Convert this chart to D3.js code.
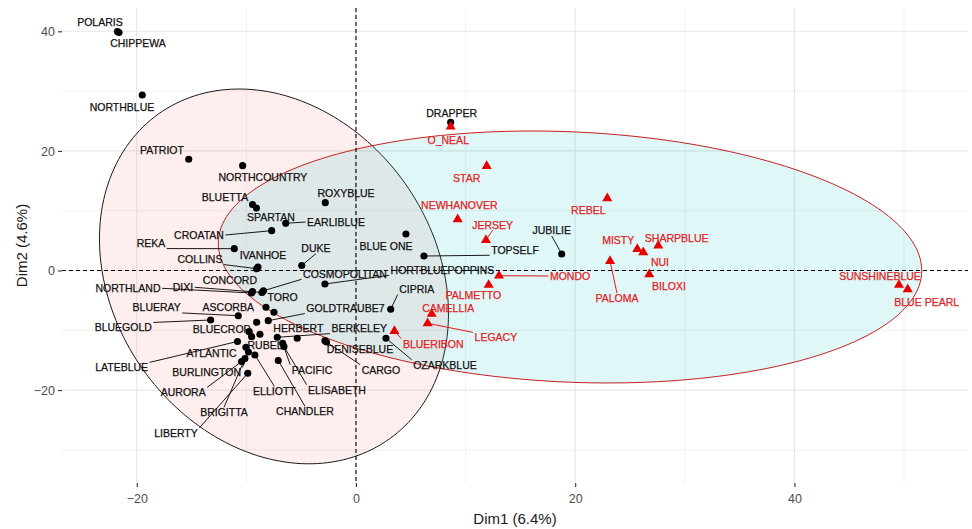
<!DOCTYPE html>
<html>
<head>
<meta charset="utf-8">
<script src="https://cdn.jsdelivr.net/npm/d3@7"></script>
<style>
  body { margin: 0; background: #fff; }
  text { font-family: "Liberation Sans", Arial, sans-serif; }
</style>
</head>
<body>
<svg id="chart" width="972" height="529"></svg>
<script>
// Cultivar coordinates on the first two dimensions
const cultivars = [
  "POLARIS","CHIPPEWA","NORTHBLUE","PATRIOT","NORTHCOUNTRY","BLUETTA","SPARTAN","ROXYBLUE",
  "EARLIBLUE","CROATAN","REKA","COLLINS","IVANHOE","DUKE","CONCORD","NORTHLAND","DIXI",
  "COSMOPOLITAN","HORTBLUEPOPPINS","BLUE ONE","TOPSELF","JUBILIE","DRAPPER","CIPRIA","TORO","",
  "BLUERAY","ASCORBA","GOLDTRAUBE7","BLUEGOLD","BLUECROP","RUBEL","","BERKELEY","HERBERT",
  "DENISEBLUE","CARGO","OZARKBLUE","LATEBLUE","ATLANTIC","BURLINGTON","ELLIOTT","PACIFIC",
  "ELISABETH","AURORA","BRIGITTA","LIBERTY","CHANDLER",
  "O_NEAL","STAR","NEWHANOVER","JERSEY","REBEL","MISTY","SHARPBLUE","NUI","BILOXI","PALOMA",
  "MONDO","PALMETTO","CAMELLIA","LEGACY","BLUERIBON","SUNSHINEBLUE","BLUE PEARL"
];
const dim1 = [
  -21.76,-21.62,-19.50,-15.26,-10.34,-9.44,-9.08,-2.80,
  -6.41,-7.69,-11.10,-9.06,-8.94,-4.95,-9.44,-9.53,-8.58,
  -8.44,-2.83,4.56,6.20,18.77,8.64,3.17,-8.21,-7.48,
  -10.74,-9.06,-8.00,-13.26,-9.74,-8.76,-9.52,-7.18,-5.36,
  -2.83,-2.69,2.74,-10.81,-10.04,-9.81,-9.22,-6.69,
  -6.57,-10.43,-10.13,-9.87,-7.09,
  8.64,11.93,9.28,11.86,22.93,25.67,27.58,26.21,26.76,23.18,
  13.05,12.11,6.91,6.54,3.51,49.54,50.34
];
const dim2 = [
  39.97,39.80,29.35,18.60,17.53,11.04,10.45,11.34,
  7.89,6.66,3.65,0.30,0.59,0.84,-3.51,-3.76,-3.68,
  -3.39,-2.26,6.10,2.42,2.76,24.78,-6.49,-6.15,-6.99,
  -7.56,-8.66,-8.39,-8.28,-10.23,-10.67,-11.07,-11.17,-11.34,
  -11.74,-11.96,-11.34,-11.87,-12.84,-13.63,-14.13,-12.17,
  -12.71,-15.22,-14.72,-17.19,-15.05,
  24.05,17.47,8.56,5.10,12.07,3.60,4.15,3.04,-0.64,1.59,
  -0.87,-2.42,-7.27,-8.83,-10.12,-2.42,-3.14
];
// 1 = first cluster (black circles), 2 = second cluster (red triangles)
const cluster = [
  1,1,1,1,1,1,1,1,1,1,1,1,1,1,1,1,1,1,1,1,1,1,1,1,1,1,
  1,1,1,1,1,1,1,1,1,1,1,1,1,1,1,1,1,1,1,1,1,1,
  2,2,2,2,2,2,2,2,2,2,2,2,2,2,2,2,2
];
// Repelled label anchors, in the same Dim1 / Dim2 units
const labelDim1 = [
  -23.36,-19.89,-21.35,-17.70,-8.49,-11.95,-7.76,-0.91,
  -1.82,-14.32,-18.70,-14.23,-8.49,-3.65,-11.50,-20.80,-15.78,
  -1.00,7.89,2.74,14.51,17.86,8.73,5.54,-6.69,null,
  -18.18,-11.65,-0.96,-21.23,-12.25,-8.30,null,0.30,-5.26,
  0.36,2.28,8.12,-21.38,-13.17,-13.62,-7.44,-4.01,
  -1.73,-15.76,-12.04,-16.42,-4.65,
  8.42,10.10,9.43,12.47,21.20,23.93,29.26,27.74,28.56,23.81,
  19.53,10.70,8.42,12.77,7.05,47.81,52.07
];
const labelDim2 = [
  41.56,38.04,27.34,20.15,15.64,12.29,8.95,12.96,
  8.11,5.94,4.55,1.87,2.59,3.71,-1.59,-2.98,-2.81,
  -0.59,0.08,4.10,3.43,6.66,26.29,-3.14,-4.55,null,
  -6.22,-6.22,-6.32,-9.57,-9.78,-12.58,null,-9.67,-9.67,
  -13.13,-16.64,-15.80,-16.25,-13.85,-17.09,-20.27,-16.64,
  -19.98,-20.43,-23.78,-27.22,-23.61,
  21.82,15.42,10.95,7.61,10.00,4.98,5.38,1.37,-2.71,-4.65,
  -0.92,-4.10,-6.32,-11.24,-12.29,-1.04,-5.38
];

// Concentration ellipse of each cluster: centre and covariance
const ellipseCluster = [1, 2];
const ellipseCenterX = [-7.48, 19.53];
const ellipseCenterY = [-0.99, 2.26];
const ellipseVarX = [253.5, 1029.8];
const ellipseVarY = [982.1, 443.96];
const ellipseCovXY = [-99.9, -73.2];

const xTicks = [-20, 0, 20, 40];
const yTicks = [-20, 0, 20, 40];
const xMinor = [-10, 10, 30, 50];
const yMinor = [-30, -10, 10, 30];
const xTitle = "Dim1 (6.4%)";
const yTitle = "Dim2 (4.6%)";

const pointColor = {1: "#000000", 2: "#E80000"};
const labelColor = {1: "#111111", 2: "#E3211F"};
const ellipseStroke = {1: "#1a1a1a", 2: "#C42020"};
const ellipseFill = {1: "#F8766D", 2: "#00BFC4"};

const svg = d3.select("#chart");
const panel = {left: 62, right: 968, top: 8, bottom: 483};

const x = d3.scaleLinear().domain([-26.82, 55.84]).range([panel.left, panel.right]);
const y = d3.scaleLinear().domain([-35.54, 43.90]).range([panel.bottom, panel.top]);

svg.append("rect").attr("width", 972).attr("height", 529).attr("fill", "#fff");

// grid
const grid = svg.append("g");
grid.selectAll(".vminor").data(xMinor).join("line")
  .attr("x1", d => x(d)).attr("x2", d => x(d))
  .attr("y1", panel.top).attr("y2", panel.bottom)
  .attr("stroke", "#EDEDED").attr("stroke-width", 0.8);
grid.selectAll(".hminor").data(yMinor).join("line")
  .attr("y1", d => y(d)).attr("y2", d => y(d))
  .attr("x1", panel.left).attr("x2", panel.right)
  .attr("stroke", "#EDEDED").attr("stroke-width", 0.8);
grid.selectAll(".vmajor").data(xTicks).join("line")
  .attr("x1", d => x(d)).attr("x2", d => x(d))
  .attr("y1", panel.top).attr("y2", panel.bottom)
  .attr("stroke", "#E6E6E6").attr("stroke-width", 1.1);
grid.selectAll(".hmajor").data(yTicks).join("line")
  .attr("y1", d => y(d)).attr("y2", d => y(d))
  .attr("x1", panel.left).attr("x2", panel.right)
  .attr("stroke", "#E6E6E6").attr("stroke-width", 1.1);

// ellipses
function ellipsePoints(i) {
  const l11 = Math.sqrt(ellipseVarX[i]);
  const l21 = ellipseCovXY[i] / l11;
  const l22 = Math.sqrt(ellipseVarY[i] - l21 * l21);
  return d3.range(0, 200).map(k => {
    const t = 2 * Math.PI * k / 200;
    const c = Math.cos(t), s = Math.sin(t);
    return [x(ellipseCenterX[i] + l11 * c), y(ellipseCenterY[i] + l21 * c + l22 * s)];
  });
}
const ell = svg.append("g");
ellipseCluster.forEach((g, i) => {
  ell.append("path")
    .attr("d", d3.line().curve(d3.curveLinearClosed)(ellipsePoints(i)))
    .attr("fill", ellipseFill[g]).attr("fill-opacity", 0.12)
    .attr("stroke", ellipseStroke[g]).attr("stroke-width", 1);
});

// reference lines at the origin
svg.append("line")
  .attr("x1", x(0)).attr("x2", x(0)).attr("y1", panel.top).attr("y2", panel.bottom)
  .attr("stroke", "#000").attr("stroke-width", 1.1).attr("stroke-dasharray", "4,3");
svg.append("line")
  .attr("y1", y(0)).attr("y2", y(0)).attr("x1", panel.left).attr("x2", panel.right)
  .attr("stroke", "#000").attr("stroke-width", 1.1).attr("stroke-dasharray", "4,3");

const idx = d3.range(cultivars.length);
const segLayer = svg.append("g");
const ptLayer = svg.append("g");
const lblLayer = svg.append("g");

// points
ptLayer.selectAll("path").data(idx).join("path")
  .attr("transform", i => `translate(${x(dim1[i])},${y(dim2[i])})`)
  .attr("d", i => cluster[i] === 1
      ? d3.symbol(d3.symbolCircle, 40)()
      : d3.symbol(d3.symbolTriangle, 44)())
  .attr("fill", i => pointColor[cluster[i]]);

// labels
const fs = 10.5;
const labelled = idx.filter(i => cultivars[i] && labelDim1[i] !== null);
const labels = lblLayer.selectAll("text").data(labelled).join("text")
  .attr("x", i => x(labelDim1[i]))
  .attr("y", i => y(labelDim2[i]))
  .attr("dy", "0.36em")
  .attr("text-anchor", "middle")
  .attr("font-size", fs)
  .attr("fill", i => labelColor[cluster[i]])
  .attr("stroke", i => labelColor[cluster[i]])
  .attr("stroke-width", 0.25)
  .text(i => cultivars[i]);

// leader segments from each point to its label box
labels.each(function(i) {
  const w = this.getComputedTextLength();
  const cx = x(labelDim1[i]), cy = y(labelDim2[i]);
  const pad = 1.5;
  const b = {x1: cx - w / 2 - pad, x2: cx + w / 2 + pad,
             y1: cy - 0.36 * fs - pad, y2: cy + 0.36 * fs + pad};
  const px = x(dim1[i]), py = y(dim2[i]);
  // nearest distance decides whether a segment is needed
  const nx = Math.max(b.x1, Math.min(px, b.x2));
  const ny = Math.max(b.y1, Math.min(py, b.y2));
  const d = Math.hypot(px - nx, py - ny);
  if (d <= 9.4) return;
  let ex = cx, ey = cy;
  if (px < b.x1) ex = b.x1; else if (px > b.x2) ex = b.x2;
  if (py < b.y1) ey = b.y1; else if (py > b.y2) ey = b.y2;
  segLayer.append("line")
    .attr("x1", px).attr("y1", py).attr("x2", ex).attr("y2", ey)
    .attr("stroke", pointColor[cluster[i]]).attr("stroke-width", 0.9);
});

// axes
const xAxis = svg.append("g").attr("transform", `translate(0,${panel.bottom})`)
  .call(d3.axisBottom(x).tickValues(xTicks).tickSize(4).tickPadding(7).tickFormat(d3.format("d")));
const yAxis = svg.append("g").attr("transform", `translate(${panel.left},0)`)
  .call(d3.axisLeft(y).tickValues(yTicks).tickSize(4).tickPadding(3).tickFormat(d3.format("d")));
[xAxis, yAxis].forEach(a => {
  a.select(".domain").remove();
  a.selectAll(".tick line").attr("stroke", "#333").attr("stroke-width", 1.1);
  a.selectAll(".tick text").attr("fill", "#4D4D4D").attr("font-size", 12.5)
    .attr("font-family", "\"Liberation Sans\", Arial, sans-serif");
});
yAxis.selectAll(".tick text").attr("dy", "0.34em");

// axis titles
svg.append("text")
  .attr("x", (panel.left + panel.right) / 2).attr("y", 524)
  .attr("text-anchor", "middle").attr("font-size", 15).attr("fill", "#1a1a1a")
  .text(xTitle);
svg.append("text")
  .attr("transform", `translate(27,${(panel.top + panel.bottom) / 2}) rotate(-90)`)
  .attr("text-anchor", "middle").attr("font-size", 15).attr("fill", "#1a1a1a")
  .text(yTitle);
</script>
</body>
</html>
